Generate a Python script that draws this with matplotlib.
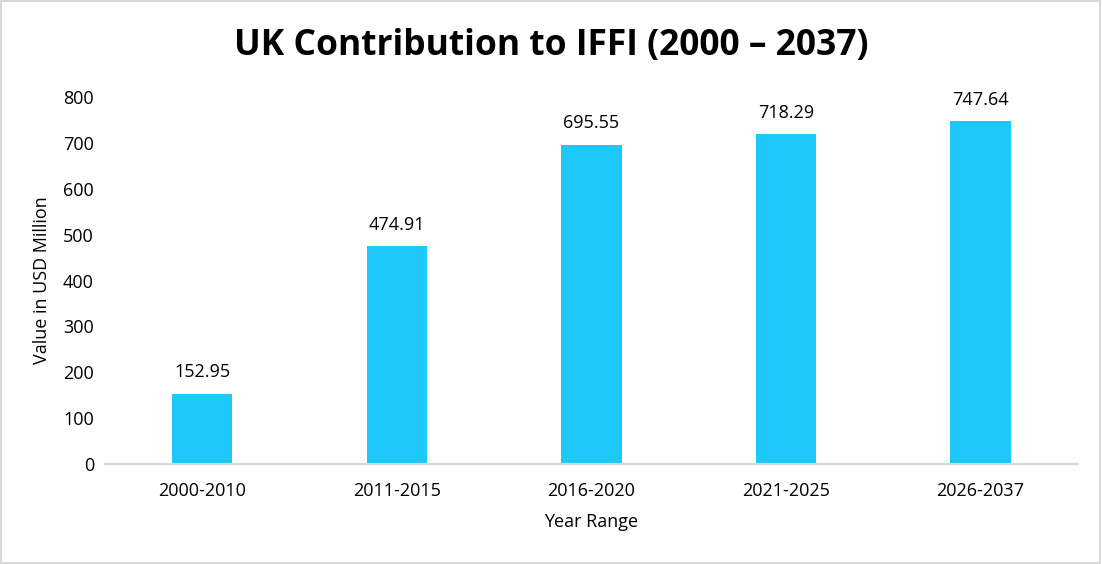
import matplotlib.pyplot as plt
from matplotlib.patches import Rectangle

# data
year_ranges = ['2000-2010', '2011-2015', '2016-2020', '2021-2025', '2026-2037']
contribution = [152.95, 474.91, 695.55, 718.29, 747.64]
y_ticks = [0, 100, 200, 300, 400, 500, 600, 700, 800]

plt.rcParams['font.family'] = ['Open Sans', 'DejaVu Sans']

fig = plt.figure(figsize=(11.02, 5.64), dpi=100)
ax = fig.add_axes([0.0953, 0.1773, 0.8827, 0.6507])

x = range(len(year_ranges))
bars = ax.bar(x, contribution, width=0.31, color='#1ec8fb')

for b, v in zip(bars, contribution):
    ax.annotate(f'{v:.2f}', (b.get_x() + b.get_width() / 2, v),
                xytext=(0, 9), textcoords='offset points',
                ha='center', va='bottom', fontsize=13, color='black')

ax.set_xlim(-0.5, len(year_ranges) - 0.5)
ax.set_ylim(0, 800)
ax.set_yticks(y_ticks)
ax.set_xticks(list(x))
ax.set_xticklabels(year_ranges)
ax.tick_params(length=0, labelsize=13, pad=8)
ax.tick_params(axis='x', pad=13)

for side in ['top', 'right', 'left']:
    ax.spines[side].set_visible(False)
ax.spines['bottom'].set_color('#d9d9d9')
ax.spines['bottom'].set_linewidth(1.5)

ax.set_xlabel('Year Range', fontsize=13, labelpad=9)
ax.set_ylabel('Value in USD Million', fontsize=13, labelpad=9)

fig.text(0.5, 0.918, 'UK Contribution to IFFI (2000 – 2037)',
         ha='center', va='center', fontsize=25.5, fontweight='bold')

# light grey frame round the whole picture
fig.patches.append(Rectangle((0.001, 0.002), 0.997, 0.996, transform=fig.transFigure,
                             fill=False, edgecolor='#d9d9d9', linewidth=1.5))

fig.savefig('out.png', dpi=100)
